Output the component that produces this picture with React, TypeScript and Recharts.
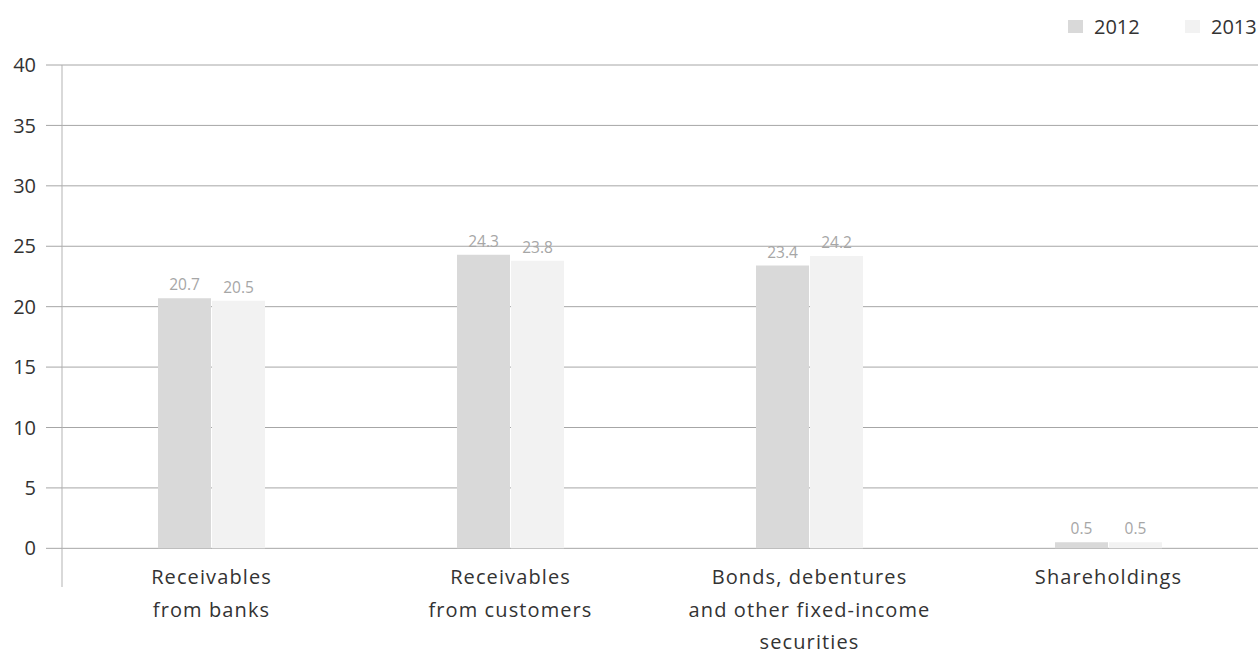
import { BarChart, Bar, XAxis, YAxis, CartesianGrid, LabelList } from "recharts";

const categories = [
  "Receivables\nfrom banks",
  "Receivables\nfrom customers",
  "Bonds, debentures\nand other fixed-income\nsecurities",
  "Shareholdings",
];
const values2012 = [20.7, 24.3, 23.4, 0.5];
const values2013 = [20.5, 23.8, 24.2, 0.5];
const yTicks = [0, 5, 10, 15, 20, 25, 30, 35, 40];

const data = categories.map((name, i) => ({ name, y2012: values2012[i], y2013: values2013[i] }));

const FONT = "'Open Sans', 'Noto Sans', sans-serif";
const C2012 = "#d9d9d9";
const C2013 = "#f2f2f2";

const CategoryTick = (props: any) => {
  const { x, y, payload } = props;
  const lines = String(payload.value).split("\n");
  return (
    <text x={x} y={y - 3} textAnchor="middle" fontFamily={FONT} fontSize={20} letterSpacing={1.1} fill="#333">
      {lines.map((l, i) => (
        <tspan key={i} x={x} dy={i === 0 ? 0 : 32.5}>{l}</tspan>
      ))}
    </text>
  );
};

const LegendItem = ({ color, label, left }: { color: string; label: string; left: number }) => (
  <div style={{ position: "absolute", left, top: 13, display: "flex", alignItems: "center" }}>
    <span style={{ width: 15, height: 13, background: color, display: "inline-block", marginRight: 11 }} />
    <span style={{ fontFamily: FONT, fontSize: 20, color: "#333" }}>{label}</span>
  </div>
);

export default function App() {
  return (
    <div style={{ position: "absolute", left: 0, top: 0, width: 1258, height: 655, background: "#fff" }}>
      <LegendItem color={C2012} label="2012" left={1068} />
      <LegendItem color={C2013} label="2013" left={1185} />
      <BarChart
        width={1258}
        height={655}
        data={data}
        margin={{ top: 65, right: 0, bottom: 67, left: 0 }}
        barCategoryGap={96}
        barGap={1}
      >
        <CartesianGrid vertical={false} horizontalValues={yTicks} stroke="#a6a6a6" strokeWidth={1} />
        <XAxis
          dataKey="name"
          axisLine={false}
          tickLine={false}
          tickSize={0}
          tickMargin={0}
          height={1}
          interval={0}
          tick={<CategoryTick />}
        />
        <YAxis
          domain={[-3.2, 40]}
          ticks={yTicks}
          width={62}
          axisLine={{ stroke: "#b3b3b3" }}
          tickLine={{ stroke: "#a6a6a6" }}
          tickSize={16}
          tickMargin={10}
          tick={{ fontFamily: FONT, fontSize: 20, fill: "#333" }}
        />
        <Bar dataKey="y2012" fill={C2012} isAnimationActive={false}>
          <LabelList dataKey="y2012" position="top" offset={8} fontFamily={FONT} fontSize={15.5} fill="#a6a6a6" />
        </Bar>
        <Bar dataKey="y2013" fill={C2013} isAnimationActive={false}>
          <LabelList dataKey="y2013" position="top" offset={8} fontFamily={FONT} fontSize={15.5} fill="#a6a6a6" />
        </Bar>
      </BarChart>
    </div>
  );
}
